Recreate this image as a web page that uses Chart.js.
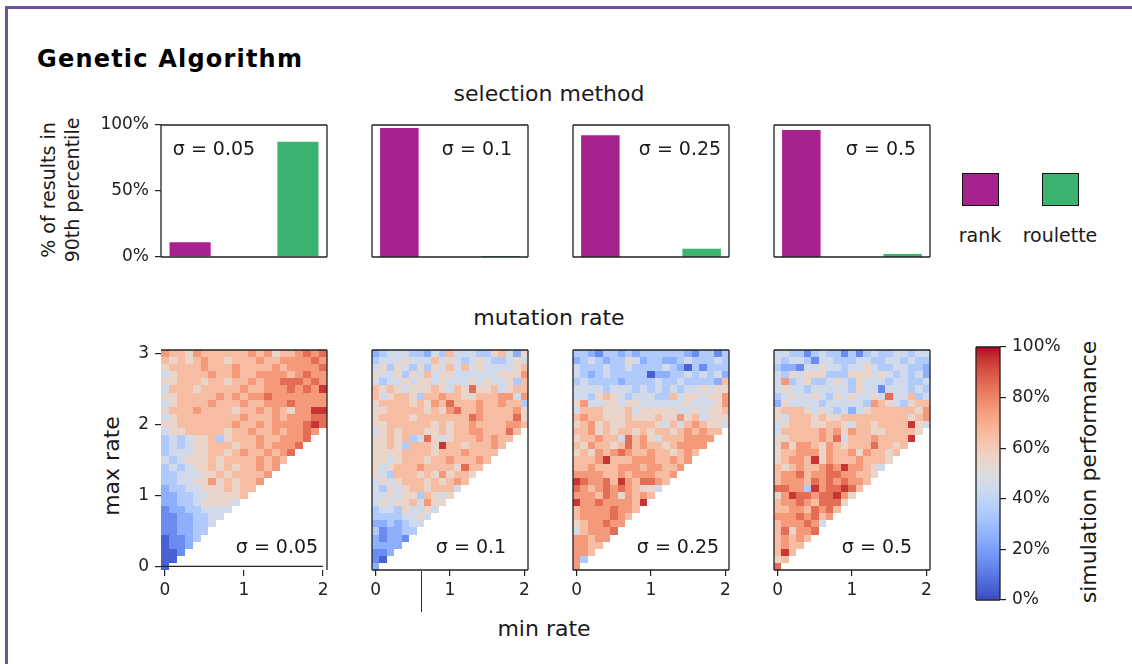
<!DOCTYPE html>
<html>
<head>
<meta charset="utf-8">
<script src="https://cdn.jsdelivr.net/npm/chart.js@4.4.0/dist/chart.umd.min.js"></script>
<style>
  body { margin: 0; background: #fff; font-family: "DejaVu Sans", sans-serif; color: #1a1a1a; }
  #fig { position: relative; width: 1132px; height: 664px; overflow: hidden; background: #fff; }
  .box { position: absolute; }
  .t { position: absolute; white-space: nowrap; line-height: 1; transform: translate(-50%, -50%); }
  .rot { transform: translate(-50%, -50%) rotate(-90deg); text-align: center; }
  .swatch { position: absolute; width: 35px; height: 31px; border: 1.5px solid #111; }
</style>
</head>
<body>
<div id="fig">
  <div style="position:absolute;left:5px;top:6px;width:3px;height:660px;background:#6e529e"></div>
  <div style="position:absolute;left:5px;top:6px;width:1127px;height:3px;background:#6e529e"></div>

  <div style="position:absolute;left:37px;top:45px;font-size:24px;line-height:28px;letter-spacing:1.2px;font-weight:bold;color:#000;white-space:nowrap">Genetic Algorithm</div>
  <div class="t" style="left:549px;top:94px;font-size:22px">selection method</div>
  <div class="t" style="left:549px;top:318px;font-size:22px">mutation rate</div>
  <div class="t" style="left:544px;top:629px;font-size:22px">min rate</div>
  <div class="t rot" style="left:112px;top:466px;font-size:22px">max rate</div>
  <div class="t rot" style="left:60px;top:190px;font-size:19px;line-height:24px">% of results in<br>90th percentile</div>
  <div class="t rot" style="left:1089px;top:472px;font-size:22px">simulation performance</div>

  <div class="swatch" style="left:962px;top:173px;background:#a8228f"></div>
  <div class="swatch" style="left:1042px;top:173px;background:#3cb371"></div>
  <div class="t" style="left:980px;top:235px;font-size:19px">rank</div>
  <div class="t" style="left:1060px;top:235px;font-size:19px">roulette</div>

  <div style="position:absolute;left:421px;top:571px;width:1.4px;height:41px;background:#333"></div>
</div>
<script>
// ---- data ----
const sigmas = ['0.05', '0.1', '0.25', '0.5'];
const methods = ['rank', 'roulette'];
const methodPos = [0, 1];
const rankShare = [12, 98.5, 93, 97];        // % of results in 90th percentile
const rouletteShare = [88, 1.5, 7, 3];
const barTicks = [0, 50, 100];

const minRates = [0, 0.1, 0.2, 0.3, 0.4, 0.5, 0.6, 0.7, 0.8, 0.9, 1, 1.1, 1.2, 1.3, 1.4, 1.5, 1.6, 1.7, 1.8, 1.9, 2];
const maxRates = [0, 0.1, 0.2, 0.3, 0.4, 0.5, 0.6, 0.7, 0.8, 0.9, 1, 1.1, 1.2, 1.3, 1.4, 1.5, 1.6, 1.7, 1.8, 1.9, 2,
                  2.1, 2.2, 2.3, 2.4, 2.5, 2.6, 2.7, 2.8, 2.9, 3];
const heatTicksX = [0, 1, 2];
const heatTicksY = [0, 1, 2, 3];
const cbarTicks = [0, 20, 40, 60, 80, 100];

// simulation performance, one row per max rate (top row = 3.0), one digit per min rate
// digit d stands for roughly (10*d + 5) %
const perf005 = [
  '766576666667675667878', '656567665666766777787', '566667666766667677778', '456666766766777767877',
  '556665665667677888787', '466656666676677787879', '556666676767787777777', '456666766676677787777',
  '566676666566767657799', '456666666676667677788', '556666666766767777898', '45566666566766767787',
  '3434556356667667778', '343455666566767778', '34445566567667678', '4345556566667676',
  '343455656566767', '33444556566667', '3344557565667', '233445556566', '22334455556',
  '2233455554', '122334444', '11223344', '1122334', '112233', '01123', '0112', '001', '00', '0'
];
const perf01 = [
  '234443324364443356425', '344454446454345433454', '453543535464645444456', '544535464554444445557',
  '434454554544454544536', '656545556546585564566', '645665366766556667747', '566665657686667667663',
  '556666656578667666675', '566665666666687666685', '556666665656676666776', '45656665565667766686',
  '5565634854566676766', '556536665966566676', '55556666566676666', '5545666566766676',
  '545666766665866', '54366656575665', '4545666565676', '435456656664', '44545536545',
  '4545564755', '344354454', '33334454', '2232344', '312233', '21221', '2222', '112', '10', '2'
];
const perf025 = [
  '332133232333333213313', '234323354233223433343', '433343343333432031333', '432343333302233434342',
  '343333233334334333326', '444434443434343445455', '443565434443364554557', '574455455444444544457',
  '466655564555554454556', '676655565556557564555', '567565566665464676554', '66756566565665676766',
  '5667664867546667777', '657665686766567777', '56576787667665676', '6667966677766767',
  '667666777677667', '77776676777667', '9877869768876', '876787876554', '77768757676',
  '9778777769', '677778776', '67777876', '5677877', '467778', '77677', '7766', '776', '73', '7'
];
const perf05 = [
  '443313433131343344344', '434431443334433443433', '322144544344543344332', '435455533355545434342',
  '473453345435444344334', '454434444435441444343', '345445435454454844634', '254444344444376543566',
  '566654543424566666657', '546665655666666666567', '456665566546656666954', '46666676757665566665',
  '5566667684666766669', '575776576566686656', '56677757667576656', '5677695766676665',
  '656766787977654', '67786778877665', '6777687878776', '887739788986', '57988788975',
  '6778768885', '667768786', '77787867', '6777874', '685778', '67676', '6766', '696', '56', '8'
];
const perfTables = [perf005, perf01, perf025, perf05];

// coolwarm colour map stops
const coolwarmStops = [
  [59,76,192],[68,90,204],[77,104,215],[87,117,225],[98,130,234],[108,142,241],[119,154,247],[130,165,251],
  [141,176,254],[152,185,255],[163,194,255],[174,201,253],[184,208,249],[194,213,244],[204,217,238],[213,219,230],
  [221,221,221],[229,216,209],[236,211,197],[241,204,184],[245,196,172],[247,187,159],[247,177,147],[247,166,134],
  [244,154,123],[241,141,111],[236,127,99],[229,112,88],[222,96,77],[213,80,66],[203,62,56],[192,40,47],[180,4,38]
];

function coolwarm(t) {
  t = Math.min(1, Math.max(0, t));
  const p = t * (coolwarmStops.length - 1);
  const i = Math.min(Math.floor(p), coolwarmStops.length - 2);
  const f = p - i;
  const a = coolwarmStops[i], b = coolwarmStops[i + 1];
  return 'rgb(' + a.map((c, k) => Math.round(c + (b[k] - c) * f)).join(',') + ')';
}

function heatCells(rows) {
  const cells = [];
  rows.forEach((row, r) => {
    const maxRate = maxRates[maxRates.length - 1 - r];
    row.split('').forEach((d, k) => {
      if (k < minRates.length && minRates[k] <= maxRate + 1e-9) {
        cells.push({ x: minRates[k], y: maxRate, v: Number(d) * 10 + 5 });
      }
    });
  });
  return cells;
}

// ---- plugins ----
Chart.register({
  id: 'frame',
  defaults: { top: true, right: true, bottom: true, left: true, baseline: false },
  afterDraw(chart, args, o) {
    const { ctx, chartArea: a } = chart;
    ctx.save();
    ctx.strokeStyle = '#222';
    ctx.lineWidth = 1.3;
    ctx.beginPath();
    if (o.top) { ctx.moveTo(a.left, a.top); ctx.lineTo(a.right, a.top); }
    if (o.right) { ctx.moveTo(a.right, a.top); ctx.lineTo(a.right, a.bottom); }
    if (o.bottom) { ctx.moveTo(a.left, a.bottom); ctx.lineTo(a.right, a.bottom); }
    if (o.left) { ctx.moveTo(a.left, a.top); ctx.lineTo(a.left, a.bottom); }
    if (o.baseline) {
      const yb = chart.scales.y.getPixelForValue(0);
      ctx.moveTo(a.left, yb);
      ctx.lineTo(chart.scales.x.getPixelForValue(minRates[minRates.length - 1]), yb);
    }
    ctx.stroke();
    ctx.restore();
  }
});

const heatPlugin = {
  id: 'heat',
  beforeDatasetsDraw(chart) {
    const { ctx, scales: { x, y } } = chart;
    const hx = (minRates[1] - minRates[0]) / 2;
    const hy = (maxRates[1] - maxRates[0]) / 2;
    ctx.save();
    chart.data.datasets[0].data.forEach(c => {
      const x0 = Math.round(x.getPixelForValue(c.x - hx)), x1 = Math.round(x.getPixelForValue(c.x + hx));
      const y0 = Math.round(y.getPixelForValue(c.y + hy)), y1 = Math.round(y.getPixelForValue(c.y - hy));
      ctx.fillStyle = coolwarm(c.v / 100);
      ctx.fillRect(x0, y0, x1 - x0, y1 - y0);
    });
    ctx.restore();
  }
};

Chart.defaults.font.family = '"DejaVu Sans", sans-serif';
Chart.defaults.color = '#222';
Chart.defaults.animation = false;
Chart.defaults.plugins.legend.display = false;
Chart.defaults.plugins.tooltip.enabled = false;

const fig = document.getElementById('fig');

function place(left, top, w, h, m) {
  const div = document.createElement('div');
  div.className = 'box';
  div.style.left = (left - m.l) + 'px';
  div.style.top = (top - m.t) + 'px';
  div.style.width = (w + m.l + m.r) + 'px';
  div.style.height = (h + m.t + m.b) + 'px';
  const cv = document.createElement('canvas');
  div.appendChild(cv);
  fig.appendChild(div);
  return cv;
}

function addLabel(text, cx, cy, size) {
  const d = document.createElement('div');
  d.className = 't';
  d.style.left = cx + 'px';
  d.style.top = cy + 'px';
  d.style.fontSize = size + 'px';
  d.textContent = text;
  fig.appendChild(d);
}

const tickGrid = () => ({ display: true, drawOnChartArea: false, drawTicks: true, tickLength: 6, color: '#222', lineWidth: 1.2 });
const tickFont = { size: 17 };

const plotLefts = [161, 362, 563, 764];

// ---- selection method bar charts ----
sigmas.forEach((s, i) => {
  const showY = i === 0;
  const m = { l: showY ? 60 : 10, r: 10, t: 20, b: 20 };
  const cv = place(plotLefts[i], 125, 166, 132, m);
  new Chart(cv, {
    type: 'bar',
    data: {
      datasets: [{
        label: methods.join(' / '),
        data: [{ x: methodPos[0], y: rankShare[i] }, { x: methodPos[1], y: rouletteShare[i] }],
        backgroundColor: ['#a8228f', '#3cb371'],
        borderColor: 'rgba(255,255,255,0.45)',
        borderWidth: 1,
        barPercentage: 0.4,
        categoryPercentage: 1
      }]
    },
    options: {
      responsive: true,
      maintainAspectRatio: false,
      layout: { padding: { left: showY ? 0 : m.l, right: m.r, top: m.t, bottom: m.b } },
      scales: {
        x: {
          type: 'linear', min: -0.27, max: 1.27, offset: false, display: false,
          afterBuildTicks: sc => { sc.ticks = methodPos.map(v => ({ value: v })); }
        },
        y: {
          min: 0, max: 100, display: showY,
          afterBuildTicks: sc => { sc.ticks = barTicks.map(v => ({ value: v })); },
          afterFit: sc => { sc.width = m.l; },
          ticks: { callback: v => v + '%', font: tickFont, padding: 6, color: '#222' },
          grid: tickGrid(),
          border: { display: false }
        }
      }
    }
  });
  addLabel('σ = ' + s, [214, 477, 680, 881][i], 148, 19);
});

// ---- mutation rate heat maps ----
sigmas.forEach((s, i) => {
  const showY = i === 0;
  const m = { l: showY ? 60 : 10, r: 10, t: 20, b: 35 };
  const cv = place(plotLefts[i], 350, 166, 220, m);
  new Chart(cv, {
    type: 'scatter',
    data: { datasets: [{ data: heatCells(perfTables[i]), pointRadius: 0, showLine: false }] },
    options: {
      responsive: true,
      maintainAspectRatio: false,
      layout: { padding: { left: showY ? 0 : m.l, right: m.r, top: m.t, bottom: 0 } },
      plugins: {
        frame: showY ? { left: false, bottom: false, baseline: true } : {}
      },
      scales: {
        x: {
          type: 'linear', min: -0.05, max: 2.05,
          afterBuildTicks: sc => { sc.ticks = heatTicksX.map(v => ({ value: v })); },
          afterFit: sc => { sc.height = m.b; },
          ticks: { font: tickFont, padding: 4, color: '#222' },
          grid: tickGrid(),
          border: { display: false }
        },
        y: {
          type: 'linear', min: -0.05, max: 3.05, display: showY,
          afterBuildTicks: sc => { sc.ticks = heatTicksY.map(v => ({ value: v })); },
          afterFit: sc => { sc.width = m.l; },
          ticks: { font: tickFont, padding: 6, color: '#222' },
          grid: tickGrid(),
          border: { display: false }
        }
      }
    },
    plugins: [heatPlugin]
  });
  addLabel('σ = ' + s, [277, 471, 678, 877][i], 546, 19);
});

// ---- colour bar ----
(() => {
  const m = { l: 5, r: 70, t: 20, b: 20 };
  const cv = place(976, 347, 24, 253, m);
  new Chart(cv, {
    type: 'bar',
    data: {
      labels: ['performance'],
      datasets: [{
        data: [cbarTicks[cbarTicks.length - 1]],
        barPercentage: 1,
        categoryPercentage: 1,
        backgroundColor: c => {
          const a = c.chart.chartArea;
          if (!a) return '#ddd';
          const g = c.chart.ctx.createLinearGradient(0, a.bottom, 0, a.top);
          coolwarmStops.forEach((st, k) => g.addColorStop(k / (coolwarmStops.length - 1), 'rgb(' + st.join(',') + ')'));
          return g;
        }
      }]
    },
    options: {
      responsive: true,
      maintainAspectRatio: false,
      layout: { padding: { left: m.l, right: 0, top: m.t, bottom: m.b } },
      scales: {
        x: { display: false },
        y: {
          position: 'right', min: 0, max: 100,
          afterBuildTicks: sc => { sc.ticks = cbarTicks.map(v => ({ value: v })); },
          afterFit: sc => { sc.width = m.r; },
          ticks: { callback: v => v + '%', font: tickFont, padding: 6, color: '#222' },
          grid: tickGrid(),
          border: { display: false }
        }
      }
    }
  });
})();
</script>
</body>
</html>
